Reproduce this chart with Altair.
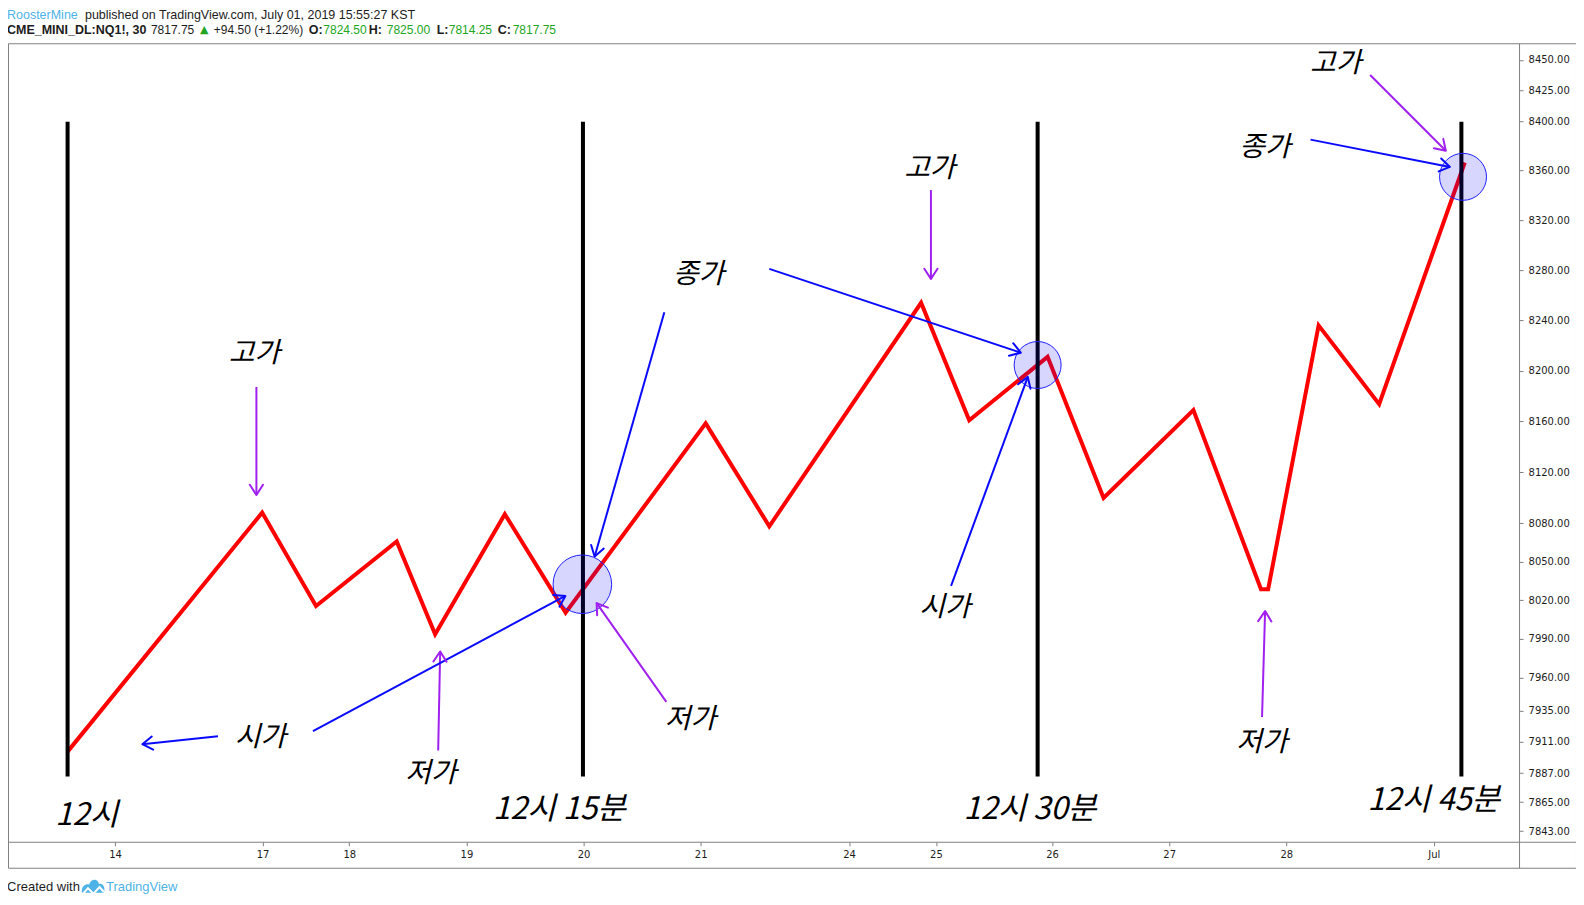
import math
import altair as alt
import pandas as pd

# ---------------- data ----------------
# x is measured in trading-session days (TradingView compressed time axis), y is price
PATH_DAY = [15.595, 17.256, 17.716, 18.405, 18.733, 19.328, 19.847, 21.043, 21.586,
            22.882, 23.293, 23.962, 24.440, 25.207, 25.784, 25.845, 26.276, 26.793, 27.524]
PATH_PRICE = [7903.5, 8088.2, 8015.5, 8065.7, 7993.6, 8087.0, 8010.4, 8158.3, 8077.5,
              8253.9, 8160.7, 8210.9, 8099.7, 8168.7, 8028.5, 8028.5, 8235.9, 8173.4, 8366.6]

SESSION_DAY = [15.595, 19.995, 23.877, 27.495]
SESSION_TOP = [8399.5, 8399.5, 8399.5, 8399.5]
SESSION_BOTTOM = [7884.5, 7884.5, 7884.5, 7884.5]
SESSION_LABEL = ["12시", "12시 15분", "12시 30분", "12시 45분"]
SESSION_LABEL_DAY = [15.759, 19.793, 23.810, 27.259]
SESSION_LABEL_PRICE = [7854.6, 7859.2, 7859.2, 7866.1]

CIRCLE_DAY = [19.990, 23.877, 27.509]
CIRCLE_PRICE = [8032.4, 8204.4, 8355.0]

NOTE_TEXT = ["고가", "고가", "고가", "종가", "종가", "시가", "시가", "저가", "저가", "저가"]
NOTE_DAY = [17.190, 22.957, 26.422, 20.983, 25.819, 17.241, 23.086, 18.698, 20.914, 25.793]
NOTE_PRICE = [8213.4, 8361.4, 8446.7, 8276.2, 8378.6, 7913.7, 8013.9, 7886.1, 7927.7, 7909.9]

ARROW_KIND = ["고가", "고가", "고가", "저가", "저가", "저가", "시가", "시가", "종가", "종가", "시가", "종가"]
ARROW_FROM_DAY = [17.207, 22.966, 26.716, 18.759, 20.707, 25.793, 16.879, 17.690, 20.690, 21.586, 23.138, 26.207]
ARROW_FROM_PRICE = [8187.0, 8344.3, 8437.6, 7904.4, 7941.6, 7930.0, 7915.3, 7919.2, 8246.4, 8281.0, 8031.2, 8385.1]
ARROW_TO_DAY = [17.207, 22.966, 27.362, 18.776, 20.112, 25.819, 16.233, 19.845, 20.095, 23.733, 23.793, 27.397]
ARROW_TO_PRICE = [8102.0, 8273.0, 8376.1, 7980.4, 8017.8, 8011.6, 7909.2, 8023.3, 8053.9, 8214.2, 8195.0, 8363.0]

X_TICK_POS = [16.0, 17.259, 18.0, 19.0, 20.0, 21.0, 22.267, 23.009, 24.0, 25.0, 26.0, 27.259]
X_TICK_LABEL = ["14", "17", "18", "19", "20", "21", "24", "25", "26", "27", "28", "Jul"]
Y_TICKS = [8450, 8425, 8400, 8360, 8320, 8280, 8240, 8200, 8160, 8120, 8080, 8050,
           8020, 7990, 7960, 7935, 7911, 7887, 7865, 7843]

X_DOMAIN = [15.0862, 28.4735]
Y_DOMAIN = [7815.3, 8463.56]

# ---------------- styles ----------------
W, H = 1569, 825
GRAY = "#808080"
DARK = "#1c1c1c"
BLUE = "#0a0aff"
PURPLE = "#a020f0"
KIND_COLOR = {"고가": PURPLE, "저가": PURPLE, "시가": BLUE, "종가": BLUE}
GREEN = "#22a622"
TV_BLUE = "#4db3e6"
HEAD_SHAPE = "M -0.55 0.85 L 0 0 L 0.55 0.85"
CIRCLE_R = [29.3, 23.5, 23.5]

xs = alt.Scale(domain=X_DOMAIN, nice=False, zero=False)
ys = alt.Scale(type="log", domain=Y_DOMAIN, nice=False)

label_expr = ("[" + ",".join(f"'{t}'" for t in X_TICK_LABEL) + "][indexof(["
              + ",".join(repr(v) for v in X_TICK_POS) + "], datum.value)]")

x_axis = alt.Axis(orient="bottom", offset=-26, values=X_TICK_POS, labelExpr=label_expr,
                  tickSize=4, tickColor=GRAY, domainColor=GRAY, labelFont="DejaVu Sans",
                  labelFontSize=10, labelColor=DARK, labelPadding=4, grid=False, title=None,
                  labelOverlap=False, labelFlush=False, labelBound=False)
y_axis = alt.Axis(orient="right", offset=-57, values=Y_TICKS, format=".2f", tickSize=4,
                  tickColor=GRAY, domainColor=GRAY, labelFont="DejaVu Sans", labelFontSize=10,
                  labelColor=DARK, labelPadding=5, grid=False, title=None, labelOverlap=False,
                  labelFlush=False, labelBound=False)

# ---------------- layers ----------------
path_df = pd.DataFrame({"day": PATH_DAY, "price": PATH_PRICE, "order": list(range(len(PATH_DAY)))})
line = alt.Chart(path_df).mark_line(color="#ff0000", strokeWidth=4).encode(
    x=alt.X("day:Q", scale=xs, axis=x_axis),
    y=alt.Y("price:Q", scale=ys, axis=y_axis),
    order="order:Q",
)

sess_df = pd.DataFrame({"day": SESSION_DAY, "price": SESSION_TOP, "price2": SESSION_BOTTOM})
sessions = alt.Chart(sess_df).mark_rule(color="black", strokeWidth=4).encode(
    x="day:Q", y="price:Q", y2="price2:Q")

# Vega's circle symbol has radius sqrt(size)/2
circ_df = pd.DataFrame({"day": CIRCLE_DAY, "price": CIRCLE_PRICE,
                        "size": [(2 * r) ** 2 for r in CIRCLE_R]})
circles = alt.Chart(circ_df).mark_point(
    shape="circle", filled=True, color="#0000ff", opacity=1, fillOpacity=0.16,
    stroke="#1f1fff", strokeWidth=1, strokeOpacity=1).encode(
    x="day:Q", y="price:Q", size=alt.Size("size:Q", scale=None, legend=None))

# arrowhead orientation follows the same mapping as the scales
LY0, LY1 = math.log(Y_DOMAIN[0]), math.log(Y_DOMAIN[1])


def to_px(d, p):
    return ((d - X_DOMAIN[0]) / (X_DOMAIN[1] - X_DOMAIN[0]) * W,
            (LY1 - math.log(p)) / (LY1 - LY0) * H)


angles = []
for d0, p0, d1, p1 in zip(ARROW_FROM_DAY, ARROW_FROM_PRICE, ARROW_TO_DAY, ARROW_TO_PRICE):
    a0, b0 = to_px(d0, p0)
    a1, b1 = to_px(d1, p1)
    angles.append(math.degrees(math.atan2(a1 - a0, -(b1 - b0))) % 360)

arrow_df = pd.DataFrame({
    "day": ARROW_FROM_DAY, "price": ARROW_FROM_PRICE,
    "day2": ARROW_TO_DAY, "price2": ARROW_TO_PRICE,
    "color": [KIND_COLOR[k] for k in ARROW_KIND], "angle": angles,
})
shafts = alt.Chart(arrow_df).mark_rule(strokeWidth=2).encode(
    x="day:Q", y="price:Q", x2="day2:Q", y2="price2:Q",
    color=alt.Color("color:N", scale=None, legend=None))
heads = alt.Chart(arrow_df).mark_point(
    shape=HEAD_SHAPE, filled=False, size=576, strokeWidth=2, opacity=1,
    strokeCap="round", strokeJoin="round").encode(
    x=alt.X("day2:Q"), y=alt.Y("price2:Q"),
    angle=alt.Angle("angle:Q", scale=None),
    color=alt.Color("color:N", scale=None, legend=None))

note_df = pd.DataFrame({"day": NOTE_DAY, "price": NOTE_PRICE, "text": NOTE_TEXT})
notes = alt.Chart(note_df).mark_text(
    font="Noto Sans CJK KR", fontSize=28, fontStyle="italic", color="black",
    align="center", baseline="middle").encode(x="day:Q", y="price:Q", text="text:N")

sl_df = pd.DataFrame({"day": SESSION_LABEL_DAY, "price": SESSION_LABEL_PRICE, "text": SESSION_LABEL})
sess_labels = alt.Chart(sl_df).mark_text(
    font="Noto Sans CJK KR", fontSize=31, fontStyle="italic", color="black",
    align="center", baseline="middle").encode(x="day:Q", y="price:Q", text="text:N")

# ---------------- header / footer text (page chrome) ----------------
one = pd.DataFrame({"k": [0]})
chrome = []


def seg(text, px, py, color=DARK, bold=False, size=12.5, font="Liberation Sans"):
    chrome.append(alt.Chart(one).mark_text(
        text=text, font=font, fontSize=size, fontWeight="bold" if bold else "normal",
        color=color, align="left", baseline="middle").encode(
        x=alt.value(px), y=alt.value(py)))


L1, L2 = -28.2, -13.7
seg("RoosterMine", -1, L1, TV_BLUE)
seg("published on TradingView.com, July 01, 2019 15:55:27 KST", 77, L1)
seg("CME_MINI_DL:NQ1!, 30", -1, L2, bold=True)
seg("7817.75", 143, L2, size=12)
seg("▲", 192, L2, GREEN, size=11, font="DejaVu Sans")
seg("+94.50 (+1.22%)", 206, L2, size=12)
seg("O:", 301, L2, bold=True)
seg("7824.50", 315.5, L2, GREEN, size=12)
seg("H:", 361, L2, bold=True)
seg("7825.00", 379, L2, GREEN, size=12)
seg("L:", 429, L2, bold=True)
seg("7814.25", 441, L2, GREEN, size=12)
seg("C:", 490, L2, bold=True)
seg("7817.75", 505, L2, GREEN, size=12)

seg("Created with", -1, 844, size=13)
seg("TradingView", 98, 844, TV_BLUE, size=13)
chrome.append(alt.Chart(one).mark_point(
    shape="M -1 0.55 C -1.1 0 -0.7 -0.35 -0.35 -0.2 C -0.2 -0.75 0.45 -0.8 0.55 -0.25 "
          "C 0.95 -0.35 1.15 0.15 1 0.55 Z",
    filled=True, color=TV_BLUE, opacity=1, size=484).encode(
    x=alt.value(85), y=alt.value(844)))
chrome.append(alt.Chart(one).mark_point(
    shape="M -0.95 0.5 L -0.45 -0.05 L 0.05 0.45 L 0.6 -0.15 L 1 0.3",
    filled=False, color="white", opacity=1, strokeWidth=2, size=484).encode(
    x=alt.value(85), y=alt.value(846)))

chart = alt.layer(line, sessions, circles, shafts, heads, notes, sess_labels, *chrome).properties(
    width=W, height=H,
    padding={"left": 0, "top": 35, "right": 0, "bottom": 30},
    autosize=alt.AutoSizeParams(type="none"),
    background="white",
).configure_view(stroke=GRAY, strokeWidth=1)

chart.save("out.html", embed_options={"renderer": "svg", "actions": False})
